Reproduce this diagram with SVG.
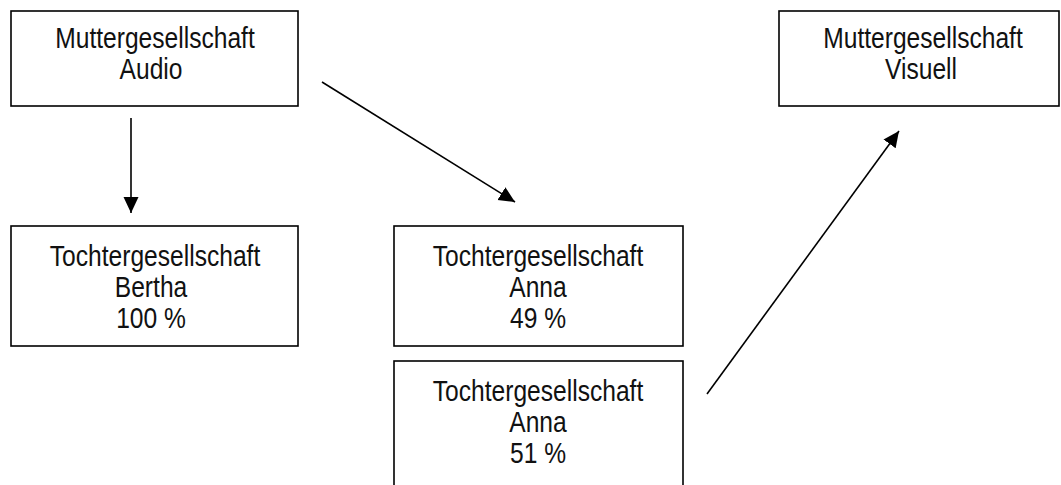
<svg xmlns="http://www.w3.org/2000/svg" width="1061" height="485" viewBox="0 0 1061 485">
<style>
.box{fill:#fff;stroke:#000;stroke-width:1.6}
.t{font-family:"Liberation Sans",Arial,sans-serif;font-size:30px;fill:#111;text-anchor:middle}
.c{stroke:#000;stroke-width:1.6;fill:none}
</style>
<defs>
<marker id="ah" markerUnits="userSpaceOnUse" markerWidth="18" markerHeight="16" refX="16" refY="7.5" orient="auto">
<path d="M0,0 L16,7.5 L0,15 Z" fill="#000"/>
</marker>
</defs>
<rect width="1061" height="485" fill="#fff"/>
<g id="mutter-audio">
<rect class="box" x="11" y="11" width="287" height="95"/>
<text class="t" transform="translate(155,48) scale(0.82,1)">Muttergesellschaft</text>
<text class="t" transform="translate(151,79) scale(0.82,1)">Audio</text>
</g>
<g id="mutter-visuell">
<rect class="box" x="779" y="11" width="280" height="95"/>
<text class="t" transform="translate(923,48) scale(0.82,1)">Muttergesellschaft</text>
<text class="t" transform="translate(921,79) scale(0.82,1)">Visuell</text>
</g>
<g id="tochter-bertha">
<rect class="box" x="11" y="226" width="287" height="120"/>
<text class="t" transform="translate(155,266) scale(0.82,1)">Tochtergesellschaft</text>
<text class="t" transform="translate(151,297) scale(0.82,1)">Bertha</text>
<text class="t" transform="translate(151,328) scale(0.82,1)">100 %</text>
</g>
<g id="tochter-anna-49">
<rect class="box" x="394" y="226" width="289" height="120"/>
<text class="t" transform="translate(538,266) scale(0.82,1)">Tochtergesellschaft</text>
<text class="t" transform="translate(538,297) scale(0.82,1)">Anna</text>
<text class="t" transform="translate(538,328) scale(0.82,1)">49 %</text>
</g>
<g id="tochter-anna-51">
<rect class="box" x="394" y="361" width="289" height="140"/>
<text class="t" transform="translate(538,401) scale(0.82,1)">Tochtergesellschaft</text>
<text class="t" transform="translate(538,432) scale(0.82,1)">Anna</text>
<text class="t" transform="translate(538,463) scale(0.82,1)">51 %</text>
</g>
<g id="connectors">
<line class="c" x1="131" y1="118" x2="131" y2="213" marker-end="url(#ah)"/>
<line class="c" x1="322" y1="82" x2="515" y2="202" marker-end="url(#ah)"/>
<line class="c" x1="707" y1="394" x2="899" y2="131" marker-end="url(#ah)"/>
</g>
</svg>
